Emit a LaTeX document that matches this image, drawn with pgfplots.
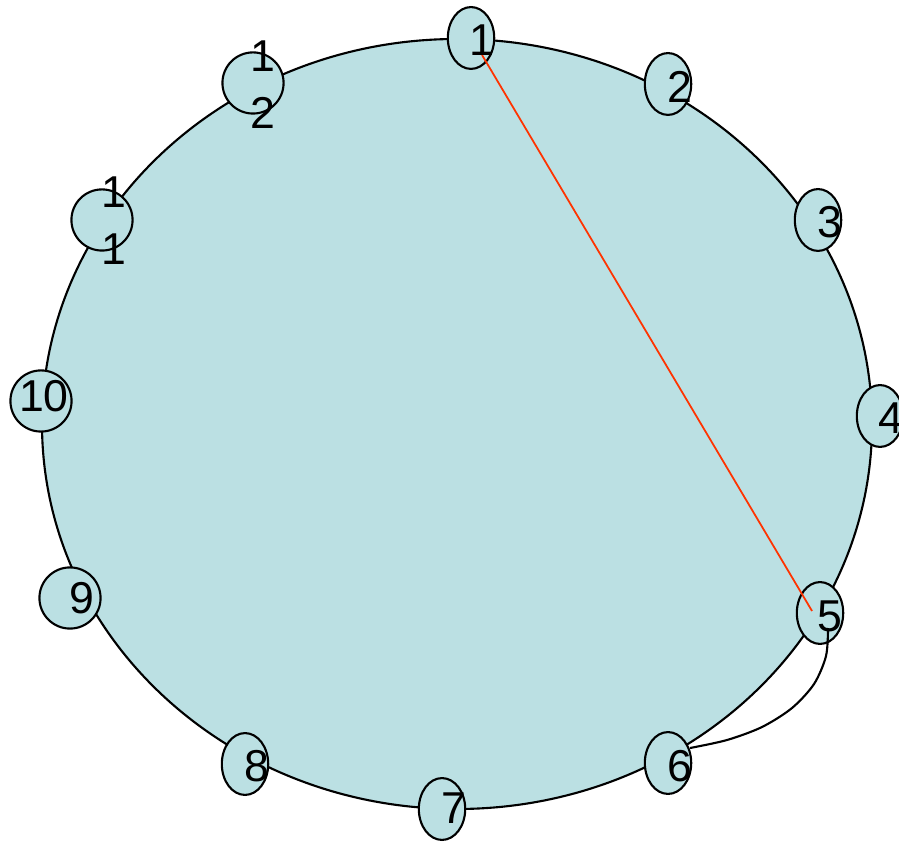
\documentclass[border=0pt]{standalone}
\usepackage{fontspec}
\setmainfont{Liberation Sans}
\usepackage{pgfplots}
\pgfplotsset{compat=1.18}
\definecolor{ringfill}{HTML}{BBE0E3}
\definecolor{chordred}{HTML}{FF3300}
\begin{document}
\begin{tikzpicture}
  \begin{axis}[
    scale only axis,
    width=8.99cm, height=8.41cm,
    xmin=0, xmax=899,
    ymin=0, ymax=841,
    y dir=reverse,
    hide axis,
    clip marker paths=true,
  ]
    % the ring
    \draw[black, line width=0.6pt, fill=ringfill]
      (axis cs:457,424) ellipse [x radius=415, y radius=385];

    % ellipse-shaped nodes
    \addplot[only marks, mark=*, mark size=8.8pt,
      mark options={xscale=0.75, fill=ringfill, draw=black, line width=0.6pt}]
      coordinates {
        (471,38) (668,84) (818,220) (880,416) (820,613)
        (668,763) (442,809) (245,764)
      };
    % round nodes
    \addplot[only marks, mark=*, mark size=8.7pt,
      mark options={fill=ringfill, draw=black, line width=0.6pt}]
      coordinates {
        (70,598) (41,401) (102,220) (253,83)
      };

    % chord 1 -> 5
    \addplot[chordred, line width=0.5pt, mark=none]
      coordinates {(482,55) (812,611)};
    % successor 5 -> 6
    \addplot[black, line width=0.6pt, mark=none, smooth]
      coordinates {(828,628) (826,656) (814,684) (792,708) (762,727) (727,740) (690,748)};

    % labels
    \addplot[only marks, mark=none,
      point meta=explicit symbolic,
      nodes near coords,
      every node near coord/.append style={anchor=center, inner sep=0pt,
        align=center, font=\fontsize{12.7}{16.2}\selectfont}]
      coordinates {
        (482,40) [1] (680,87) [2] (830,222) [3] (891,418) [4]
        (830,616) [5] (680,766) [6] (454,808) [7] (257,766) [8]
        (82,598) [9] (44,396) [10] (114,221) [{1\\1}] (263,85) [{1\\2}]
      };
  \end{axis}
  \pgfresetboundingbox
  \useasboundingbox (0,0) rectangle (8.99cm,8.41cm);
\end{tikzpicture}
\end{document}
